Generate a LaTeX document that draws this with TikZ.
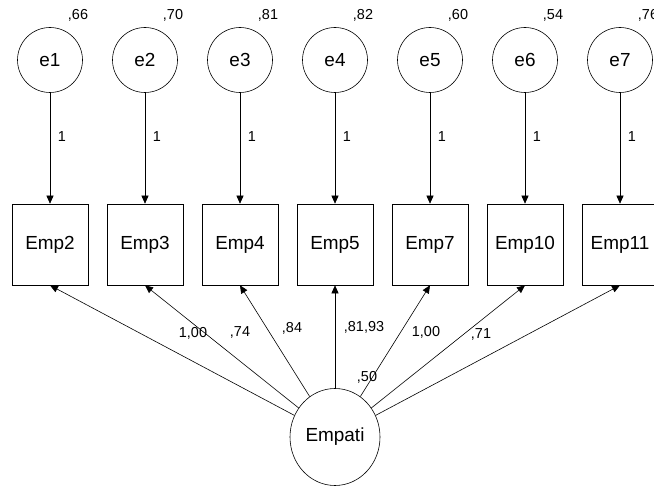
\documentclass[tikz,border=0pt]{standalone}
\usepackage{fontspec}
\setmainfont{Liberation Sans}
\usetikzlibrary{positioning,arrows.meta,shapes.geometric}
\tikzset{
errvar/.style={draw, circle, minimum size=65bp, inner sep=0pt, line width=0.6pt, font=\fontsize{19}{22}\selectfont},
factor/.style={draw, ellipse, minimum width=90bp, minimum height=97bp, inner sep=0pt, line width=0.6pt, font=\fontsize{19}{22}\selectfont},
indic/.style={draw, rectangle, minimum width=76bp, minimum height=81bp, inner sep=0pt, line width=0.6pt, font=\fontsize{19}{22}\selectfont},
est/.style={inner sep=0pt, font=\fontsize{14.5}{16}\selectfont},
path/.style={line width=0.6pt, -{Triangle[length=8bp, width=7bp]}},
}

\begin{document}
\begin{tikzpicture}[x=1bp, y=-1bp]
\useasboundingbox (0,0) rectangle (654,489);

\node[errvar] (e1) at (50,60) {e1};
\node[errvar] (e2) at (145,60) {e2};
\node[errvar] (e3) at (240,60) {e3};
\node[errvar] (e4) at (335,60) {e4};
\node[errvar] (e5) at (430,60) {e5};
\node[errvar] (e6) at (525,60) {e6};
\node[errvar] (e7) at (620,60) {e7};

\node[est] (v1) at (78,15) {,66};
\node[est] (v2) at (173,15) {,70};
\node[est] (v3) at (268,15) {,81};
\node[est] (v4) at (363,15) {,82};
\node[est] (v5) at (458,15) {,60};
\node[est] (v6) at (553,15) {,54};
\node[est] (v7) at (648,15) {,76};

\node[indic] (emp2) at (50,244.5) {Emp2};
\node[indic] (emp3) at (145,244.5) {Emp3};
\node[indic] (emp4) at (240,244.5) {Emp4};
\node[indic] (emp5) at (335,244.5) {Emp5};
\node[indic] (emp7) at (430,244.5) {Emp7};
\node[indic] (emp10) at (525,244.5) {Emp10};
\node[indic] (emp11) at (620,244.5) {Emp11};

\node[factor] (empati) at (335,437) {Empati};

\draw[path] (e1) -- (emp2);
\draw[path] (e2) -- (emp3);
\draw[path] (e3) -- (emp4);
\draw[path] (e4) -- (emp5);
\draw[path] (e5) -- (emp7);
\draw[path] (e6) -- (emp10);
\draw[path] (e7) -- (emp11);

\node[est] (w1) at (62,137) {1};
\node[est] (w2) at (157,137) {1};
\node[est] (w3) at (252,137) {1};
\node[est] (w4) at (347,137) {1};
\node[est] (w5) at (442,137) {1};
\node[est] (w6) at (537,137) {1};
\node[est] (w7) at (632,137) {1};

\draw[path] (empati) -- (emp2.south);
\draw[path] (empati) -- (emp3.south);
\draw[path] (empati) -- (emp4.south);
\draw[path] (empati) -- (emp5.south);
\draw[path] (empati) -- (emp7.south);
\draw[path] (empati) -- (emp10.south);
\draw[path] (empati) -- (emp11.south);

\node[est] (r2) at (193,333) {1,00};
\node[est] (r3) at (240,332) {,74};
\node[est] (r4) at (292,328) {,84};
\node[est] (r5) at (364,327) {,81,93};
\node[est] (r7) at (426,332) {1,00};
\node[est] (r10) at (481,334) {,71};
\node[est] (r11) at (367,377) {,50};
\end{tikzpicture}
\end{document}
